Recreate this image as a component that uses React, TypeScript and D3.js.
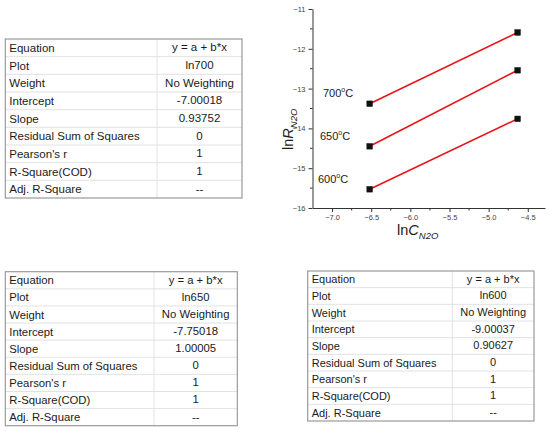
import React, { useEffect, useRef } from 'react';
import * as d3 from 'd3';

// ---- fit tables ----
const rowLabels = [
  'Equation',
  'Plot',
  'Weight',
  'Intercept',
  'Slope',
  'Residual Sum of Squares',
  "Pearson's r",
  'R-Square(COD)',
  'Adj. R-Square',
];
const values700 = ['y = a + b*x', 'ln700', 'No Weighting', '-7.00018', '0.93752', '0', '1', '1', '--'];
const values650 = ['y = a + b*x', 'ln650', 'No Weighting', '-7.75018', '1.00005', '0', '1', '1', '--'];
const values600 = ['y = a + b*x', 'ln600', 'No Weighting', '-9.00037', '0.90627', '0', '1', '1', '--'];

// ---- plot data ----
const lnC = [-6.52, -4.63];
const lnR700 = [-13.38, -11.59];
const lnR650 = [-14.45, -12.54];
const lnR600 = [-15.53, -13.76];
const seriesNames = ['700', '650', '600'];
const xTicks = [-7.0, -6.5, -6.0, -5.5, -5.0, -4.5];
const yTicks = [-16, -15, -14, -13, -12, -11];

const FONT = '"Liberation Sans", Arial, sans-serif';

interface TableProps {
  x: number;
  y: number;
  width: number;
  height: number;
  splitX: number;
  values: string[];
  fontSize: number;
}

const FitTable: React.FC<TableProps> = ({ x, y, width, height, splitX, values, fontSize }) => {
  const rowH = height / rowLabels.length;
  return (
    <g fontFamily={FONT} fontSize={fontSize} fill="#1a1a1a">
      {rowLabels.map((_, i) =>
        i > 0 ? (
          <line key={'r' + i} x1={x} x2={x + width} y1={y + i * rowH} y2={y + i * rowH} stroke="#e2e2e2" strokeWidth={1} />
        ) : null
      )}
      <line x1={splitX} x2={splitX} y1={y} y2={y + height} stroke="#e2e2e2" strokeWidth={1} />
      <rect x={x} y={y} width={width} height={height} fill="none" stroke="#9a9a9a" strokeWidth={1.2} />
      {rowLabels.map((lab, i) => (
        <text key={'l' + i} x={x + 4} y={y + i * rowH + rowH * 0.74}>{lab}</text>
      ))}
      {values.map((v, i) => (
        <text key={'v' + i} x={(splitX + x + width) / 2} y={y + i * rowH + rowH * 0.7} textAnchor="middle">{v}</text>
      ))}
    </g>
  );
};

const App: React.FC = () => {
  const xAxisRef = useRef<SVGGElement>(null);
  const yAxisRef = useRef<SVGGElement>(null);

  const x = d3.scaleLinear().domain([-7.25, -4.28]).range([312.5, 545]);
  const y = d3.scaleLinear().domain([-16, -11]).range([208, 9]);

  const series = [lnR700, lnR650, lnR600];
  const line = d3.line<number>().x((_, i) => x(lnC[i])).y(d => y(d));

  useEffect(() => {
    if (!xAxisRef.current || !yAxisRef.current) return;
    const gx = d3.select(xAxisRef.current);
    const gy = d3.select(yAxisRef.current);
    gx.selectAll('*').remove();
    gy.selectAll('*').remove();

    const fmt = d3.format('.1f');
    const xAxis = d3.axisBottom(x).tickValues(xTicks).tickSize(4).tickSizeOuter(0).tickPadding(3)
      .tickFormat(d => fmt(d as number));
    gx.call(xAxis);
    // minor ticks
    const xMinor = xTicks.map(t => t + 0.25).filter(t => x(t) < 545);
    gx.selectAll('.minor').data(xMinor).enter().append('line')
      .attr('x1', d => x(d)).attr('x2', d => x(d)).attr('y1', 0).attr('y2', 2.5)
      .attr('stroke', '#333');

    const yAxis = d3.axisLeft(y).tickValues(yTicks).tickSize(4).tickSizeOuter(0).tickPadding(3)
      .tickFormat(d => d3.format('d')(d as number));
    gy.call(yAxis);
    const yMinor = yTicks.slice(0, -1).map(t => t + 0.5);
    gy.selectAll('.minor').data(yMinor).enter().append('line')
      .attr('x1', 0).attr('x2', -2.5).attr('y1', d => y(d)).attr('y2', d => y(d))
      .attr('stroke', '#333');

    [gx, gy].forEach(g => {
      g.select('.domain').attr('stroke', '#333').attr('stroke-width', 1);
      g.selectAll('.tick line').attr('stroke', '#333');
      g.selectAll('.tick text').attr('fill', '#444').style('font-size', '7.5px').style('font-family', FONT);
    });
  }, []);

  const labelY = [97, 140, 183];
  const labelX = [323, 320, 318];

  return (
    <svg width={550} height={431} style={{ position: 'absolute', left: 0, top: 0, background: '#fff' }}>
      <rect width={550} height={431} fill="#fff" />

      <FitTable x={5.3} y={39} width={236.7} height={159} splitX={157} values={values700} fontSize={11.5} />
      <FitTable x={5.3} y={271.7} width={232} height={154} splitX={154} values={values650} fontSize={11.3} />
      <FitTable x={307.7} y={271} width={226.3} height={150} splitX={452.3} values={values600} fontSize={11} />

      {/* plot */}
      <g ref={xAxisRef} transform={`translate(0,${y(-16)})`} />
      <g ref={yAxisRef} transform={`translate(${x(-7.25)},0)`} />

      {series.map((s, k) => (
        <g key={seriesNames[k]}>
          <path d={line(s) || ''} fill="none" stroke="#e8141b" strokeWidth={1.6} />
          {s.map((v, i) => (
            <rect key={i} x={x(lnC[i]) - 2.8} y={y(v) - 2.8} width={5.6} height={5.6} fill="#111" stroke="#111" strokeWidth={0.5} />
          ))}
        </g>
      ))}

      {seriesNames.map((n, k) => (
        <text key={n} x={labelX[k]} y={labelY[k]} fontFamily={FONT} fontSize={11} fill="#1a1a1a">
          {n}
          <tspan fontSize={7} dy={-5}>o</tspan>
          <tspan dy={5}>C</tspan>
        </text>
      ))}

      {/* axis titles */}
      <text x={397} y={235} fontFamily={FONT} fontSize={14.5} fill="#1a1a1a">
        ln<tspan fontStyle="italic">C</tspan>
        <tspan fontStyle="italic" fontSize={9.5} dy={4}>N2O</tspan>
      </text>
      <text transform="translate(293,150) rotate(-90)" fontFamily={FONT} fontSize={14.5} fill="#1a1a1a">
        ln<tspan fontStyle="italic">R</tspan>
        <tspan fontStyle="italic" fontSize={9.5} dy={4}>N2O</tspan>
      </text>
    </svg>
  );
};

export default App;
